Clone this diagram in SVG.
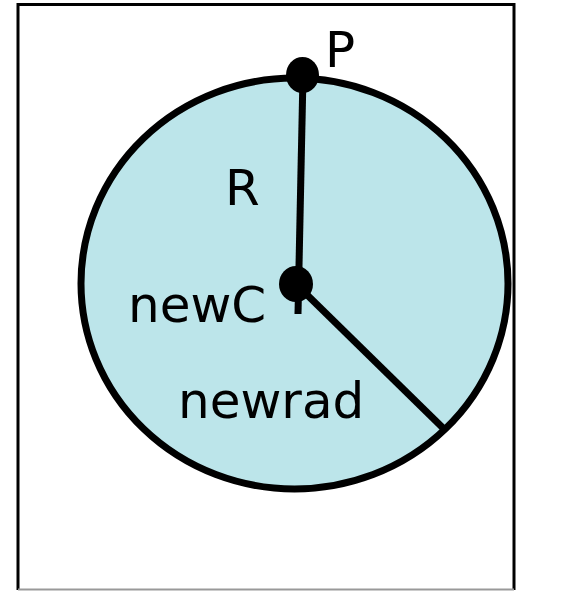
<svg xmlns="http://www.w3.org/2000/svg" width="564" height="591" viewBox="0 0 564 591">
<style>
.lbl{font-family:"DejaVu Sans","Liberation Sans",sans-serif;font-size:50px;fill:#000}
.ln{stroke:#000;stroke-width:7;fill:none}
</style>
<rect x="0" y="0" width="564" height="591" fill="#fff"/>
<g id="frame">
<path d="M18,590 L18,4.5 L514,4.5 L514,590" fill="none" stroke="#000" stroke-width="3"/>
<line x1="18" y1="589.5" x2="514" y2="589.5" stroke="#999" stroke-width="2"/>
</g>
<g id="circle">
<ellipse cx="294.5" cy="283.5" rx="213.5" ry="205.5" fill="#bce5ea" stroke="#000" stroke-width="7"/>
</g>
<g id="connectors">
<line class="ln" x1="303" y1="75" x2="298" y2="314"/>
<line class="ln" x1="297" y1="285" x2="443" y2="428"/>
</g>
<g id="P">
<ellipse cx="302.5" cy="75" rx="16.5" ry="18" fill="#000"/>
<text class="lbl" x="325" y="67">P</text>
</g>
<g id="newC">
<ellipse cx="296" cy="284" rx="17" ry="18" fill="#000"/>
<text class="lbl" x="128" y="322">newC</text>
</g>
<g id="R"><text class="lbl" x="225" y="205">R</text></g>
<g id="newrad"><text class="lbl" x="178" y="418">newrad</text></g>
</svg>
